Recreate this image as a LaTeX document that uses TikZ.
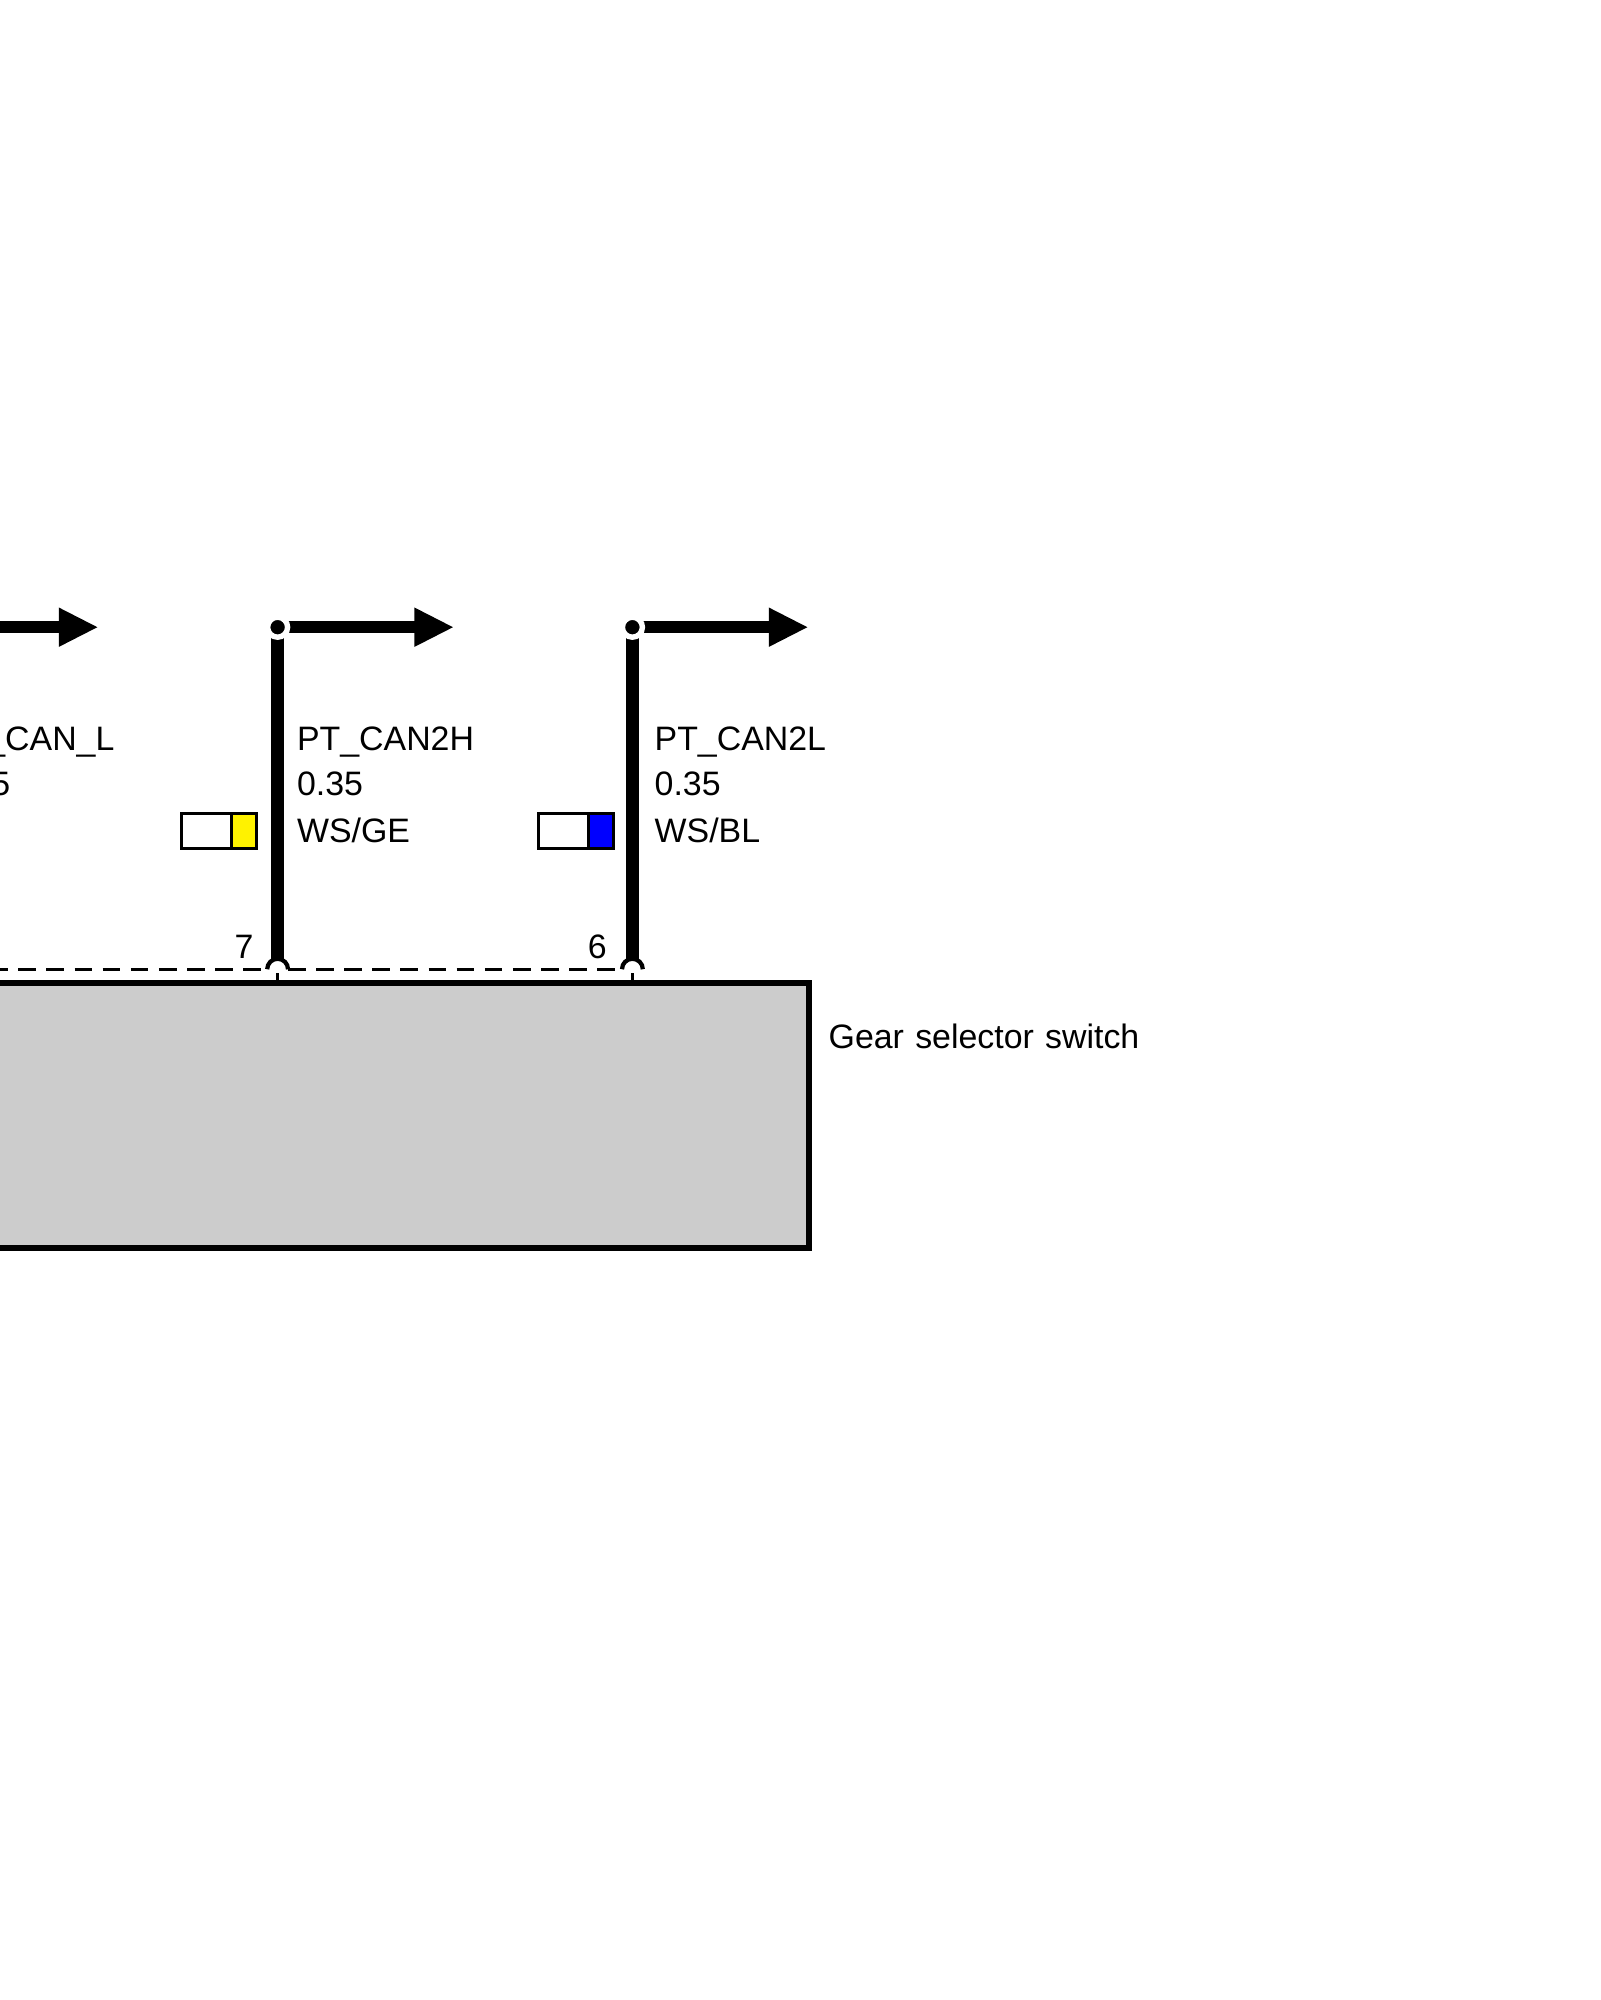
\documentclass[tikz,border=0pt]{standalone}
\usepackage{fontspec}
\setmainfont{Liberation Sans}
\newfontfamily\gearfont[WordSpace=1.2]{Liberation Sans}
\usetikzlibrary{arrows.meta}
\tikzset{
    wire/.style={line width=8.9pt},
    bus/.style={wire, -{Triangle[length=28.2pt, width=25.8pt]}},
    junction/.style={circle, draw=white, line width=3.84pt, fill=black, inner sep=0pt, minimum size=0.5cm, outer sep=0pt},
    pinarc/.style={line width=3pt},
    pintick/.style={line width=1.8pt},
    shield/.style={line width=2.25pt, dash pattern=on 12.5pt off 7.5pt},
    swatch/.style={line width=2.13pt},
    lbl/.style={anchor=base west, inner sep=0pt, font=\fontsize{24.1}{28}\selectfont},
    switchbox/.style={draw, line width=4.4pt, fill=black!20, inner sep=0pt, minimum width=22.72cm, minimum height=6.63cm}
}
\begin{document}
\begin{tikzpicture}
    \useasboundingbox (0,0) rectangle (40,-50);

    % control unit
    \node[switchbox] (gear) at (8.86,-27.885) {};
    \node[lbl] (gearname) at (20.71,-26.2) {\gearfont Gear selector switch};

    % wire cut by the left page edge
    \coordinate (startL) at (-1.65,-15.68);
    \coordinate (tipL) at (2.46,-15.68);
    \draw[bus] (startL) -- (tipL);
    \node[lbl] (nameL) at (-1.43,-18.77) {PT\_CAN\_L};
    \node[lbl] (sizeL) at (-1.4,-19.88) {0.35};

    % PT_CAN2H
    \coordinate (jointA) at (6.94,-15.68);
    \coordinate (tipA) at (11.35,-15.68);
    \coordinate (pinA) at (6.94,-24.0);
    \draw[bus] (jointA) -- (tipA);
    \draw[wire] (jointA) -- (pinA);
    \node[junction] (dotA) at (jointA) {};
    \node[lbl] (nameA) at (7.42,-18.77) {PT\_CAN2H};
    \node[lbl] (sizeA) at (7.42,-19.88) {0.35};
    \node[lbl] (colA) at (7.42,-21.05) {WS/GE};
    \node[lbl] (numA) at (5.86,-23.96) {7};
    \draw[swatch] (4.54,-20.33) rectangle (5.78,-21.21);
    \draw[swatch, fill=yellow] (5.78,-20.33) rectangle (6.42,-21.21);

    % PT_CAN2L
    \coordinate (jointB) at (15.81,-15.68);
    \coordinate (tipB) at (20.21,-15.68);
    \coordinate (pinB) at (15.81,-24.0);
    \draw[bus] (jointB) -- (tipB);
    \draw[wire] (jointB) -- (pinB);
    \node[junction] (dotB) at (jointB) {};
    \node[lbl] (nameB) at (16.36,-18.77) {PT\_CAN2L};
    \node[lbl] (sizeB) at (16.36,-19.88) {0.35};
    \node[lbl] (colB) at (16.36,-21.05) {WS/BL};
    \node[lbl] (numB) at (14.69,-23.96) {6};
    \draw[swatch] (13.46,-20.33) rectangle (14.72,-21.21);
    \draw[swatch, fill=blue] (14.72,-20.33) rectangle (15.34,-21.21);

    % pin arcs and the dashed connector
    \coordinate (arcAw) at (6.68,-24.23);
    \coordinate (arcAe) at (7.2,-24.23);
    \coordinate (arcBw) at (15.55,-24.23);
    \coordinate (tickA) at (6.94,-24.33);
    \coordinate (tickB) at (15.81,-24.33);
    \draw[pinarc] (arcAw) arc (180:0:0.26);
    \draw[pinarc] (arcBw) arc (180:0:0.26);
    \draw[pintick] (tickA) -- (tickA |- gear.north);
    \draw[pintick] (tickB) -- (tickB |- gear.north);
    \draw[shield] (-1.65,-24.23) -- (arcAw);
    \draw[shield] (arcAe) -- (arcBw);
\end{tikzpicture}
\end{document}
